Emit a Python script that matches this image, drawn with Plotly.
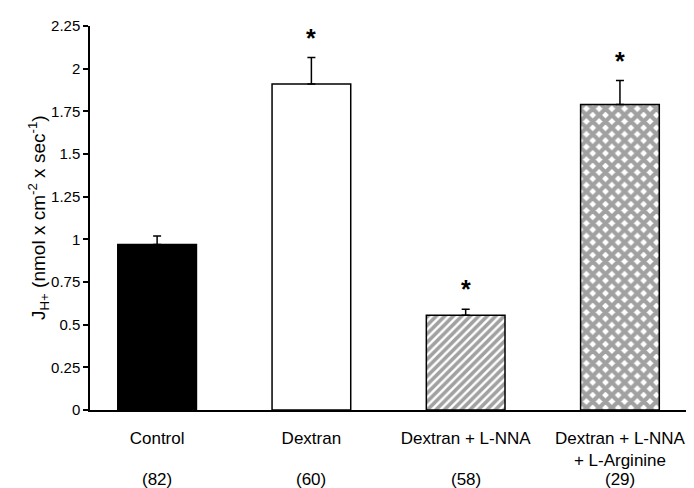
import plotly.graph_objects as go

categories = ["Control", "Dextran", "Dextran + L-NNA", "Dextran + L-NNA<br>+ L-Arginine"]
n_labels = ["(82)", "(60)", "(58)", "(29)"]
values = [0.97, 1.91, 0.555, 1.79]
errors = [0.05, 0.155, 0.035, 0.14]
significant = [False, True, True, True]
y_ticks = [0, 0.25, 0.5, 0.75, 1, 1.25, 1.5, 1.75, 2, 2.25]
y_tick_labels = ["0", "0.25", "0.5", "0.75", "1", "1.25", "1.5", "1.75", "2", "2.25"]

fills = ["black", "white", "white", "white"]
patterns = ["", "", "/", "x"]

FONT = "Liberation Sans, Arial, sans-serif"

xs = list(range(len(categories)))
fig = go.Figure()
fig.add_trace(go.Bar(
    x=xs, y=values, width=0.51,
    marker=dict(
        color=fills,
        line=dict(color="black", width=1.5),
        pattern=dict(shape=patterns, fgcolor="black", bgcolor="white",
                     size=[8, 8, 6, 9], solidity=[0.3, 0.3, 0.6, 0.72], fillmode="overlay"),
    ),
    error_y=dict(type="data", array=errors, arrayminus=[0] * len(errors), symmetric=False,
                 color="black", thickness=1.5, width=4),
    showlegend=False,
))

annotations = []
for i, (v, e, s) in enumerate(zip(values, errors, significant)):
    if s:
        annotations.append(dict(x=i, y=v + e, yshift=4, text="<b>*</b>", showarrow=False,
                                yanchor="bottom", font=dict(size=25, color="black", family=FONT)))

for i, n in enumerate(n_labels):
    annotations.append(dict(x=i, xref="x", yref="paper", y=0, yshift=-69, text=n,
                            showarrow=False, yanchor="middle",
                            font=dict(size=17, color="black", family=FONT)))

annotations.append(dict(
    xref="paper", yref="paper", x=-0.086, y=0.5,
    text="J<sub>H+</sub> (nmol x cm<sup>-2</sup> x sec<sup>-1</sup>)",
    textangle=-90, showarrow=False, xanchor="center", yanchor="middle",
    font=dict(size=19, color="black", family=FONT),
))

fig.update_layout(
    width=694, height=488,
    margin=dict(l=82, r=8, t=18, b=86),
    paper_bgcolor="white", plot_bgcolor="white",
    font=dict(family=FONT, color="black"),
    annotations=annotations,
    xaxis=dict(
        range=[-0.435, 3.48], tickmode="array", tickvals=xs, ticktext=categories,
        showline=True, linecolor="black", linewidth=1.5, ticks="", showgrid=False,
        zeroline=False, tickfont=dict(size=17, family=FONT, color="black"),
        ticklabelstandoff=12,
    ),
    yaxis=dict(
        range=[0, 2.25], tickmode="array", tickvals=y_ticks, ticktext=y_tick_labels,
        showline=True, linecolor="black", linewidth=1.5, ticks="outside", ticklen=5,
        tickwidth=1.5, tickcolor="black", showgrid=False, zeroline=False,
        tickfont=dict(size=15, family=FONT, color="black"),
    ),
)

fig.write_html("out.html")
